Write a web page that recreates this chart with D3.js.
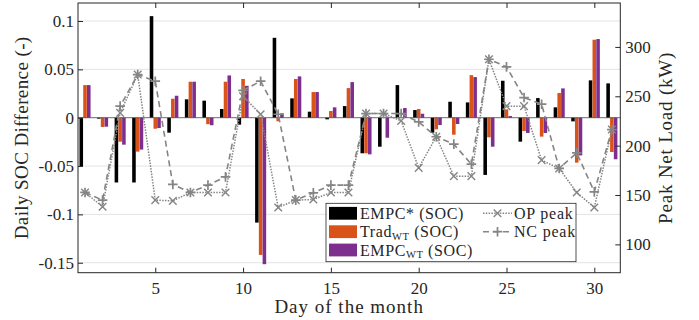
<!DOCTYPE html>
<meta charset="utf-8">
<title>Daily SOC difference and peak net load</title>
<style>
body { margin: 0; background: #fff; }
text { font-family: "Liberation Serif", "Times New Roman", serif; fill: #262626; }
.grid line { stroke: #e3e3e3; stroke-width: 1; }
.axis line { stroke: #262626; }
.axis path { display: none; }
</style>
<body>
<script src="https://cdn.jsdelivr.net/npm/d3@7"></script>
<script>

// day of month (categories)
var days = [1,2,3,4,5,6,7,8,9,10,11,12,13,14,15,16,17,18,19,20,21,22,23,24,25,26,27,28,29,30,31];

// daily SOC difference (-), left axis
var empcStar = [-0.050,-0.001,-0.067,-0.067,0.105,-0.0155,0.019,0.0176,0.009,-0.0072,-0.1085,0.0826,0.020,0.0062,-0.0017,0.012,-0.0368,-0.030,0.0337,0.0079,-0.0155,0.0165,0.0158,-0.0592,0.0382,-0.0248,0.0203,0.0107,-0.0038,0.0386,0.0355];
var tradWT   = [0.0337,-0.0096,-0.0248,-0.0351,-0.0114,0.0196,0.0372,-0.0067,0.0372,0.040,-0.1419,-0.0037,0.040,0.0265,0.0069,0.0306,-0.0368,0,0,0.009,-0.012,-0.0176,0.044,-0.0203,0.0086,-0.0138,-0.0196,0.0255,-0.0465,0.0806,-0.0355];
var empcWT   = [0.0337,-0.0093,-0.0279,-0.033,-0.0107,0.0227,0.0372,-0.0078,0.0437,0.033,-0.1515,0.0045,0.0427,0.0265,0.0107,0.0368,-0.0379,-0.0207,0.010,0.0041,-0.0076,-0.0065,0.042,-0.030,0.0017,-0.0158,-0.0158,0.0303,-0.039,0.0813,-0.043];

// peak net load (kW), right axis
var opPeak = [152.6,138.1,233.2,272,144.8,144.1,152.6,152.6,152.6,250,231.8,137.4,144.8,145.5,152.6,152.6,232.5,232.5,225.1,177.5,209,169.1,169.1,287.5,240,240,185.3,176.9,152.6,137.4,216.3];
var ncPeak = [152.6,144.8,240,272,265.3,160.7,152.6,160,168.4,256,265.3,231.8,144.8,152.2,160,160,232.5,232.5,232.5,224,209,201.5,181.2,287.5,279.8,248.7,242,176.9,192.7,153.2,216.3];

// ticks
var xTicks = [5,10,15,20,25,30];
var yLeftTicks = [-0.15,-0.1,-0.05,0,0.05,0.1];
var yLeftLabels = ["-0.15","-0.1","-0.05","0","0.05","0.1"];
var yRightTicks = [100,150,200,250,300];

var barNames = ["EMPC*", "Trad", "EMPC"];
var barColors = ["#000000", "#D95319", "#7E2F8E"];

var width = 699, height = 320;
var pl = 78, pr = 620.3, pt = 3, pb = 272.7;

var svg = d3.select("body").append("svg")
    .attr("width", width)
    .attr("height", height);

var x = d3.scaleLinear().domain([0.6, 31.48]).range([pl, pr]);
var yL = d3.scaleLinear().domain([-0.1603, 0.1186]).range([pb, pt]);
var yR = d3.scaleLinear().domain([71.3, 344.5]).range([pb, pt]);

// grid lines for left ticks
svg.append("g").attr("class", "grid")
  .selectAll("line")
  .data(yLeftTicks.filter(function(d) { return d != 0; }))
  .enter().append("line")
    .attr("x1", pl).attr("x2", pr)
    .attr("y1", function(d) { return yL(d); })
    .attr("y2", function(d) { return yL(d); });

// grouped bars
var series = [empcStar, tradWT, empcWT];
var offs = d3.scaleBand().domain([0,1,2]).range([-0.315, 0.315]).paddingInner(0.05);
var bw = x(offs.bandwidth()) - x(0);
series.forEach(function(s, k) {
  svg.append("g").selectAll("rect")
    .data(s)
    .enter().append("rect")
      .attr("x", function(d, i) { return x(days[i] + offs(k)); })
      .attr("width", bw)
      .attr("y", function(d) { return yL(Math.max(d, 0)); })
      .attr("height", function(d) { return Math.abs(yL(d) - yL(0)); })
      .attr("fill", barColors[k]);
});

// bar baseline
svg.append("line")
  .attr("x1", pl).attr("x2", pr)
  .attr("y1", yL(0)).attr("y2", yL(0))
  .attr("stroke", "#444").attr("stroke-width", 0.8);

// peak lines
var grey = "#858585";
var line = d3.line()
  .x(function(d, i) { return x(days[i]); })
  .y(function(d) { return yR(d); });

svg.append("path").datum(opPeak)
  .attr("d", line).attr("fill", "none")
  .attr("stroke", grey).attr("stroke-width", 1.5)
  .attr("stroke-dasharray", "1.5,1.3");
svg.append("path").datum(ncPeak)
  .attr("d", line).attr("fill", "none")
  .attr("stroke", grey).attr("stroke-width", 1.6)
  .attr("stroke-dasharray", "6,4");

function xMark(sel, cx, cy) {
  var r = 3.8;
  sel.append("path")
    .attr("d", "M" + (cx - r) + "," + (cy - r) + "L" + (cx + r) + "," + (cy + r) +
               "M" + (cx - r) + "," + (cy + r) + "L" + (cx + r) + "," + (cy - r))
    .attr("stroke", grey).attr("stroke-width", 1.4).attr("fill", "none");
}
function plusMark(sel, cx, cy) {
  var r = 4.8;
  sel.append("path")
    .attr("d", "M" + (cx - r) + "," + cy + "L" + (cx + r) + "," + cy +
               "M" + cx + "," + (cy - r) + "L" + cx + "," + (cy + r))
    .attr("stroke", grey).attr("stroke-width", 1.7).attr("fill", "none");
}
var marks = svg.append("g");
opPeak.forEach(function(d, i) { xMark(marks, x(days[i]), yR(d)); });
ncPeak.forEach(function(d, i) { plusMark(marks, x(days[i]), yR(d)); });

// axes (ticks inside)
svg.append("g").attr("class", "axis")
  .attr("transform", "translate(0," + pb + ")")
  .call(d3.axisBottom(x).tickValues(xTicks).tickSize(-5).tickPadding(9).tickSizeOuter(0));
svg.append("g").attr("class", "axis")
  .attr("transform", "translate(0," + pt + ")")
  .call(d3.axisTop(x).tickValues(xTicks).tickSize(-5).tickFormat("").tickSizeOuter(0));
svg.append("g").attr("class", "axis")
  .attr("transform", "translate(" + pl + ",0)")
  .call(d3.axisLeft(yL).tickValues(yLeftTicks).tickSize(-5).tickPadding(4).tickSizeOuter(0)
        .tickFormat(function(d, i) { return yLeftLabels[i]; }));
svg.append("g").attr("class", "axis")
  .attr("transform", "translate(" + pr + ",0)")
  .call(d3.axisRight(yR).tickValues(yRightTicks).tickSize(-5).tickPadding(5).tickSizeOuter(0));

svg.selectAll(".axis text")
  .style("font-family", '"Liberation Serif", serif')
  .style("font-size", "17px")
  .attr("fill", "#262626");

// frame
svg.append("rect")
  .attr("x", pl).attr("y", pt)
  .attr("width", pr - pl).attr("height", pb - pt)
  .attr("fill", "none").attr("stroke", "#262626").attr("stroke-width", 1);

// axis titles
svg.append("text")
  .attr("transform", "translate(21," + ((pt + pb) / 2) + ") rotate(-90)")
  .attr("text-anchor", "middle").attr("dominant-baseline", "central")
  .style("font-size", "19px").style("letter-spacing", "0.4px")
  .text("Daily SOC Difference (-)");
svg.append("text")
  .attr("transform", "translate(665," + ((pt + pb) / 2) + ") rotate(-90)")
  .attr("text-anchor", "middle").attr("dominant-baseline", "central")
  .style("font-size", "19px").style("letter-spacing", "0.8px")
  .text("Peak Net Load (kW)");
svg.append("text")
  .attr("x", (pl + pr) / 2).attr("y", 313)
  .attr("text-anchor", "middle")
  .style("font-size", "19px").style("letter-spacing", "1px")
  .text("Day of the month");

// legend
var lg = svg.append("g");
lg.append("rect")
  .attr("x", 326).attr("y", 203.3).attr("width", 250).attr("height", 58.4)
  .attr("fill", "#fff").attr("stroke", "#262626").attr("stroke-width", 0.8);

var rowY = [213.3, 231.7, 250];
var subs = ["", "WT", "WT"];
barNames.forEach(function(nm, k) {
  lg.append("rect")
    .attr("x", 329).attr("y", rowY[k] - 6.4)
    .attr("width", 28).attr("height", 12.8)
    .attr("fill", barColors[k]);
  var t = lg.append("text")
    .attr("x", 360).attr("y", rowY[k]).attr("dy", "0.35em")
    .style("font-size", "16px").style("letter-spacing", "0.6px");
  t.append("tspan").text(nm);
  if (subs[k]) t.append("tspan").attr("dy", 2.5).style("font-size", "10.5px").text(subs[k]);
  t.append("tspan").attr("dy", subs[k] ? -2.5 : 0).text(" (SOC)");
});

var peakNames = ["OP peak", "NC peak"];
peakNames.forEach(function(nm, k) {
  var yy = rowY[k];
  lg.append("line")
    .attr("x1", 483).attr("x2", 512).attr("y1", yy).attr("y2", yy)
    .attr("stroke", grey)
    .attr("stroke-width", k == 0 ? 1.5 : 1.6)
    .attr("stroke-dasharray", k == 0 ? "1.5,1.3" : "6,4");
  if (k == 0) xMark(lg, 497.5, yy); else plusMark(lg, 497.5, yy);
  lg.append("text")
    .attr("x", 514).attr("y", yy).attr("dy", "0.35em")
    .style("font-size", "16px").style("letter-spacing", "0.8px")
    .text(nm);
});

</script>
</body>
